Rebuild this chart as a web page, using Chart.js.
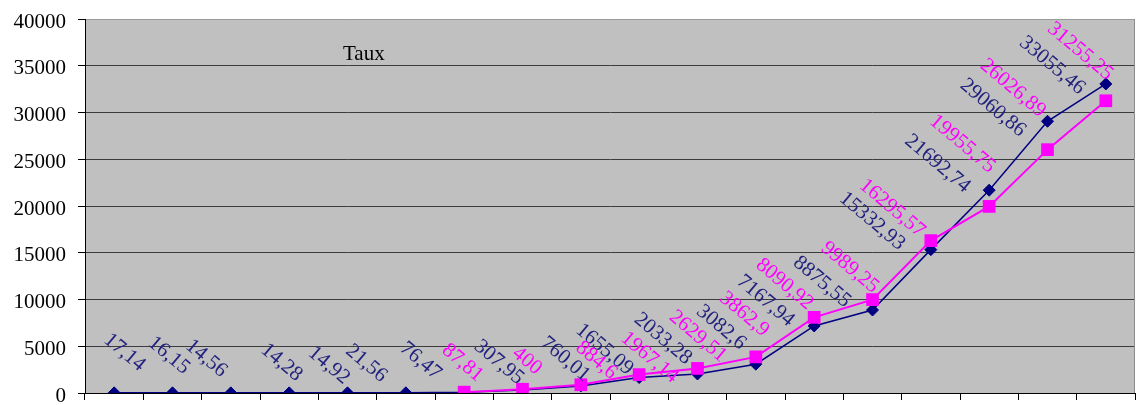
<!DOCTYPE html>
<html>
<head>
<meta charset="utf-8">
<script src="https://cdn.jsdelivr.net/npm/chart.js@4/dist/chart.umd.min.js"></script>
<style>
  html, body { margin: 0; padding: 0; background: #fff; }
</style>
</head>
<body>
<canvas id="c" width="1144" height="405"></canvas>
<script>
"use strict";

/* 18 periods, no category labels on the axis */
const categories = Array(18).fill("");
const yTicks = [0, 5000, 10000, 15000, 20000, 25000, 30000, 35000, 40000];

const seriesNavy = [17.14, 16.15, 14.56, 14.28, 14.92, 21.56, 76.47, 307.95,
  760.01, 1655.09, 2033.28, 3082.6, 7167.94, 8875.55, 15332.93, 21692.74,
  29060.86, 33055.46];
const seriesPink = [null, null, null, null, null, null, 87.81, 400, 884.6,
  1967.14, 2629.51, 3862.9, 8090.92, 9989.25, 16295.57, 19955.75, 26026.89,
  31255.25];

/* where each rotated value label ends, relative to its point (px) */
const nudgeNavy = [[25, -21], [11, -18], [-10, -15], [7, -11], [-4, -8],
  [-25, -10], [-29, -12], [-5, -5], [3, -4], [-12, -2], [-12, -9], [-16, -14],
  [-26, 1], [-28, -2], [-32, 1], [-25, 3], [-28, 16], [-27, 11]];
const nudgePink = [null, null, null, null, null, null, [13, -10], [13, -14],
  [30, -5], [33, 9], [23, -6], [7, -20], [-7, -7], [0, -6], [-12, -3],
  [0, -33], [-8, -32], [1, -20]];

const SERIF = "'Liberation Serif', 'Times New Roman', serif";
const NAVY = "#000080", PINK = "#ff00ff";

const plotFrame = {
  id: "plotFrame",
  beforeDraw(chart) {
    const { ctx, chartArea: a } = chart;
    ctx.save();
    ctx.fillStyle = "#c0c0c0";
    ctx.fillRect(a.left, a.top, a.right - a.left, a.bottom - a.top);
    ctx.restore();
  },
  beforeDatasetsDraw(chart) {
    const { ctx, chartArea: a } = chart;
    ctx.save();
    ctx.strokeStyle = "#8c8c8c";
    ctx.lineWidth = 1;
    ctx.beginPath();
    ctx.moveTo(a.right - 0.5, a.top);
    ctx.lineTo(a.right - 0.5, a.bottom);
    ctx.stroke();
    ctx.fillStyle = "#000";
    ctx.font = "21px " + SERIF;
    ctx.textBaseline = "alphabetic";
    ctx.fillText("Taux", a.left + 258, a.top + 41);
    ctx.restore();
  },
};

const valueLabels = {
  id: "valueLabels",
  afterDatasetsDraw(chart) {
    const { ctx } = chart;
    const sets = [[0, nudgeNavy, "#23237f"], [1, nudgePink, PINK]];
    ctx.save();
    ctx.font = "21px " + SERIF;
    ctx.textAlign = "right";
    ctx.textBaseline = "alphabetic";
    sets.forEach(([i, nudge, col]) => {
      const meta = chart.getDatasetMeta(i);
      const vals = chart.data.datasets[i].data;
      ctx.fillStyle = col;
      meta.data.forEach((pt, j) => {
        if (vals[j] == null) return;
        const [dx, dy] = nudge[j];
        ctx.save();
        ctx.translate(pt.x + dx, pt.y + dy);
        ctx.rotate(40 * Math.PI / 180);
        ctx.fillText(String(vals[j]).replace(".", ","), 0, 0);
        ctx.restore();
      });
    });
    ctx.restore();
  },
};

new Chart(document.getElementById("c"), {
  type: "line",
  data: {
    labels: categories,
    datasets: [
      { data: seriesNavy, borderColor: NAVY, backgroundColor: NAVY,
        borderWidth: 1.5, pointStyle: "rectRot", pointRadius: 6,
        pointBorderWidth: 1, tension: 0, order: 1 },
      { data: seriesPink, borderColor: PINK, backgroundColor: PINK,
        borderWidth: 2, pointStyle: "rect", pointRadius: 9,
        pointBorderWidth: 0, tension: 0, order: 0 },
    ],
  },
  options: {
    responsive: false,
    animation: false,
    layout: { padding: { top: 19, right: 5, left: 0, bottom: 0 } },
    plugins: { legend: { display: false }, tooltip: { enabled: false } },
    scales: {
      x: {
        offset: true,
        grid: { offset: true, drawOnChartArea: false, drawTicks: true,
                tickLength: 7, color: "#000" },
        border: { color: "#000", width: 1 },
        ticks: { callback: () => "" },
        afterFit(s) {
          s.height = 12;
          s.paddingLeft = 0; s.paddingRight = 0;
        },
      },
      y: {
        min: 0, max: 40000,
        afterBuildTicks(s) { s.ticks = yTicks.map((v) => ({ value: v })); },
        grid: {
          color: (c) => c.tick && c.tick.value === 40000 ? "#9a9a9a" : "#3c3c3c",
          tickColor: "#000", tickLength: 7, lineWidth: 1,
        },
        border: { color: "#000", width: 1 },
        ticks: { color: "#000", padding: 12, labelOffset: 3,
                 callback: (v) => String(v),
                 font: { family: SERIF, size: 21 } },
        afterFit(s) {
          s.width = 85;
          s.paddingTop = 0; s.paddingBottom = 0;
        },
      },
    },
  },
  plugins: [plotFrame, valueLabels],
});
</script>
</body>
</html>
